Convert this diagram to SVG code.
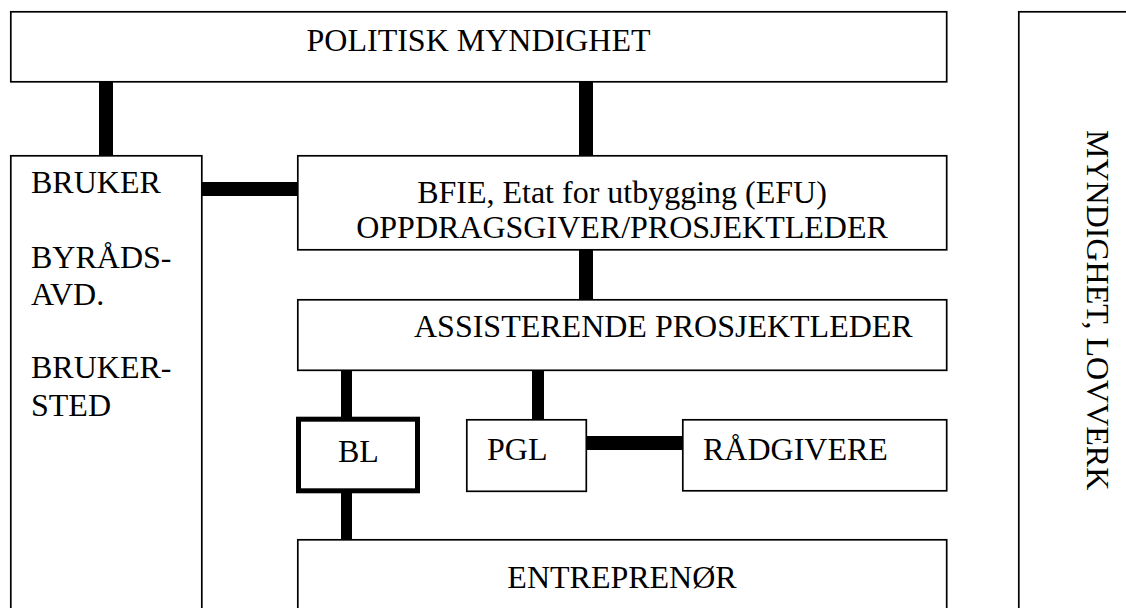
<svg xmlns="http://www.w3.org/2000/svg" width="1126" height="608" viewBox="0 0 1126 608">
  <style>
    .box { fill: #ffffff; stroke: #000000; stroke-width: 1.7; }
    .thick { fill: #ffffff; stroke: #000000; stroke-width: 5; }
    .conn { fill: #000000; stroke: none; }
    text { font-family: "Liberation Serif", "Times New Roman", serif; font-size: 32px; fill: #000000; }
    .c { text-anchor: middle; }
  </style>
  <rect x="0" y="0" width="1126" height="608" fill="#ffffff"/>
  <g id="connectors">
    <rect class="conn" x="99" y="82" width="14" height="74"/>
    <rect class="conn" x="579" y="82" width="14" height="74"/>
    <rect class="conn" x="202" y="182" width="96" height="14"/>
    <rect class="conn" x="579" y="250" width="14" height="50"/>
    <rect class="conn" x="341" y="371" width="11" height="47"/>
    <rect class="conn" x="532" y="371" width="12" height="49"/>
    <rect class="conn" x="341" y="492" width="11" height="48"/>
    <rect class="conn" x="586" y="436" width="97" height="14"/>
  </g>
  <g id="politisk">
    <rect class="box" x="10.8" y="11.8" width="935.9" height="70"/>
    <text class="c" x="478.5" y="51">POLITISK MYNDIGHET</text>
  </g>
  <g id="bruker">
    <rect class="box" x="10.8" y="155.8" width="191" height="470"/>
    <text x="31" y="193">BRUKER</text>
    <text x="31" y="268">BYRÅDS-</text>
    <text x="31" y="305">AVD.</text>
    <text x="31" y="378">BRUKER-</text>
    <text x="31" y="416">STED</text>
  </g>
  <g id="bfie">
    <rect class="box" x="297.8" y="155.8" width="648.9" height="94"/>
    <text class="c" x="622" y="203">BFIE, Etat for utbygging (EFU)</text>
    <text class="c" x="622" y="238">OPPDRAGSGIVER/PROSJEKTLEDER</text>
  </g>
  <g id="assisterende">
    <rect class="box" x="297.8" y="299.8" width="648.9" height="70.5"/>
    <text x="414" y="337">ASSISTERENDE PROSJEKTLEDER</text>
  </g>
  <g id="bl">
    <rect class="thick" x="298.5" y="419.2" width="119" height="71.6"/>
    <text x="338" y="462">BL</text>
  </g>
  <g id="pgl">
    <rect class="box" x="466.8" y="419.8" width="119.5" height="71.5"/>
    <text x="487" y="460">PGL</text>
  </g>
  <g id="radgivere">
    <rect class="box" x="682.8" y="419.8" width="263.9" height="71"/>
    <text x="703" y="460">RÅDGIVERE</text>
  </g>
  <g id="entreprenor">
    <rect class="box" x="297.8" y="539.8" width="648.9" height="90"/>
    <text class="c" x="622" y="588">ENTREPRENØR</text>
  </g>
  <g id="myndighet">
    <rect class="box" x="1018.8" y="11.8" width="130" height="620"/>
    <text transform="translate(1087,130) rotate(90)" x="0" y="0">MYNDIGHET, LOVVERK</text>
  </g>
</svg>
